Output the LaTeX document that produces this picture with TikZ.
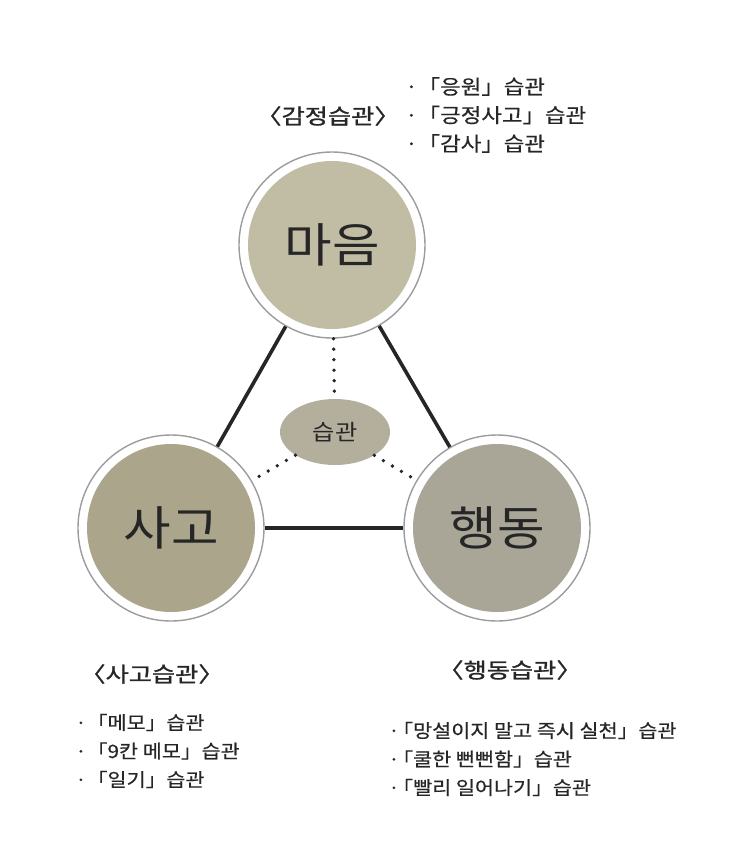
\documentclass[tikz,border=0pt]{standalone}
\usepackage{fontspec}
\setmainfont{Noto Sans CJK KR}[FakeStretch=1.1]
\newfontfamily\headfont{Noto Sans CJK KR}[FakeStretch=1.2, FakeBold=1.2]
\newfontfamily\listfont{Noto Sans CJK KR}[FakeStretch=1.12, FakeBold=0.5]
\usetikzlibrary{shapes.geometric}
\definecolor{ink}{HTML}{262626}
\definecolor{ringgray}{HTML}{9C9C9C}
\definecolor{maeumfill}{HTML}{C1BCA4}
\definecolor{sagofill}{HTML}{ABA68B}
\definecolor{haengfill}{HTML}{A9A597}
\definecolor{habitfill}{HTML}{B4AF9D}
\tikzset{
  ring/.style={circle, draw=ringgray, line width=1.4pt, fill=white, minimum size=186pt, inner sep=0pt,
    text=ink, font=\fontsize{47}{47}\selectfont,
    path picture={\fill[#1] (path picture bounding box.center) circle (84pt);}},
  habit/.style={ellipse, fill=habitfill, minimum width=110pt, minimum height=66pt, text=ink,
    font=\fontsize{22}{22}\selectfont},
  bold line/.style={ink, line width=3.6pt},
  dotline/.style={ink, line width=3.8pt, line cap=round, dash pattern=on 0pt off 10.5pt},
  heading/.style={text=ink, font=\headfont\fontsize{21}{21}\selectfont},
  itemlist/.style={text=ink, anchor=west, align=left, inner sep=0pt, font=\listfont\fontsize{#1}{28.5}\selectfont},
  itemlist/.default=19.5
}
\newcommand{\tightdot}{·\hspace{-0.4em}}
\begin{document}
\begin{tikzpicture}[x=1pt,y=-1pt]
	\useasboundingbox (0,0) rectangle (743,863);
	\node[ring=maeumfill] (maeum) at (332,245) {마음};
	\node[ring=sagofill] (sago) at (171,528) {사고};
	\node[ring=haengfill] (haengdong) at (497,528) {행동};
	\node[habit] (seupgwan) at (335,432) {습관};
	\draw[bold line] (maeum) -- (sago);
	\draw[bold line] (maeum) -- (haengdong);
	\draw[bold line] (sago) -- (haengdong);
	\draw[dotline] (maeum) -- (seupgwan);
	\draw[dotline] (seupgwan) -- (sago);
	\draw[dotline] (seupgwan) -- (haengdong);
	% habit groups
	\node[heading] (gamjeong) at (328,116) {〈감정습관〉};
	\node[itemlist=20] (gamjeong list) at (405,115) {·「응원」습관\\·「긍정사고」습관\\·「감사」습관};
	\node[heading] (sagohead) at (152,674) {〈사고습관〉};
	\node[itemlist=18.5] (sago list) at (75,751) {·「메모」습관\\·「9칸 메모」습관\\·「일기」습관};
	\node[heading] (haenghead) at (510,670) {〈행동습관〉};
	\node[itemlist=18.5] (haeng list) at (388,759) {\tightdot「망설이지 말고 즉시 실천」습관\\\tightdot「쿨한 뻔뻔함」습관\\\tightdot「빨리 일어나기」습관};
\end{tikzpicture}
\end{document}
